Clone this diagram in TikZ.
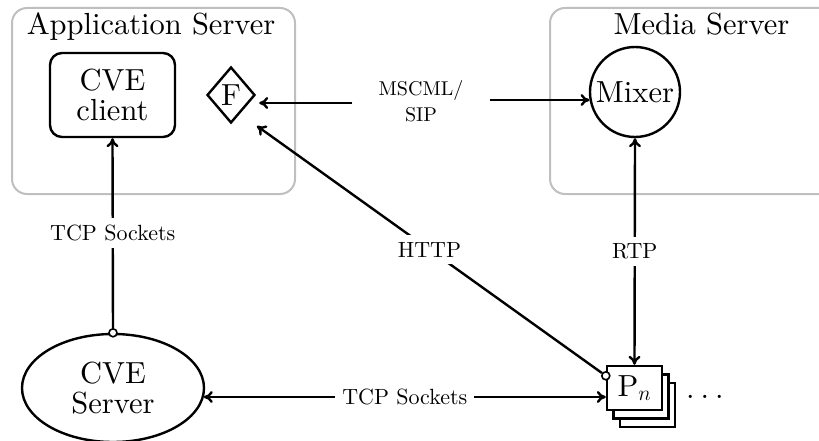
\RequirePackage{fix-cm}
\documentclass[tikz,border=0pt]{standalone}
\usepackage{fontspec}
\setmainfont{lmroman10-regular.otf}
\usetikzlibrary{shapes.geometric,arrows.meta,calc}

\begin{document}
\begin{tikzpicture}[x=1pt,y=-1pt,
  big/.style={font=\fontsize{30.5}{29.5}\selectfont},
  lbl/.style={font=\fontsize{22}{26}\selectfont, fill=white, inner sep=7pt},
  group/.style={draw=gray!50, line width=2pt, rounded corners=15pt},
  conn/.style={line width=2.4pt, -{To[length=9pt,width=12pt]}},
  both/.style={line width=2.4pt, {To[length=9pt,width=12pt]}-{To[length=9pt,width=12pt]}},
  port/.style={circle, draw, fill=white, line width=1.6pt, minimum size=8pt, inner sep=0pt},
  card/.style={draw, fill=white, line width=2.4pt, minimum width=55pt, minimum height=44pt, inner sep=0pt},
  thick line/.style={draw, line width=2.4pt},
]
\useasboundingbox (0,0) rectangle (819,441);
\clip (0,0) rectangle (819,441);

% server groups
\draw[group] (12,8) rectangle (295,194);
\draw[group] (550,8) rectangle (880,194);
\node[big, anchor=base] (apptitle) at (151,35) {Application Server};
\node[big, anchor=base] (medtitle) at (701.5,34.5) {Media Server};

% application server parts
\node[big, thick line, rounded corners=12pt, minimum width=125pt, minimum height=84pt,
      align=center, inner sep=0pt] (client) at (112.5,95) {CVE\\client};
\node[big, thick line, diamond, minimum width=48pt, minimum height=56pt, inner sep=0pt]
      (F) at (231,95) {F};

% media server mixer
\node[big, thick line, circle, minimum size=90pt, inner sep=0pt] (mixer) at (635,92) {Mixer};

% CVE server
\node[big, thick line, ellipse, minimum width=182pt, minimum height=108pt, inner sep=0pt,
      align=center] (cves) at (113,388) {CVE\\Server};

% stacked participants
\node[card] (pn3) at (647.5,405) {};
\node[card] (pn2) at (641,396.5) {};
\node[card, big] (pnf) at (634.5,388) {$\mathrm{P}_n$};
\node[big, anchor=base west, inner sep=0pt] (more) at (686,398) {.\kern6pt.\kern6pt.};

% signalling label between the servers
\node[font=\fontsize{20}{26}\selectfont, align=center, inner xsep=26pt, inner ysep=0pt]
      (msc) at (421,101) {MSCML/\\SIP};
\coordinate (fin) at ($(F)+(26,31)$);
\coordinate (fside) at ($(F.east)+(3,8)$);

% connectors
\draw[conn] (msc.west |- fside) -- (fside);
\draw[conn] (msc.east |- mixer.190) -- (mixer.190);

\node[port] (pa) at (cves.north) {};
\node[port] (pb) at ($(pnf.north west)+(0,11)$) {};

\draw[conn] (pa) -- (client.south) node[lbl, midway] {TCP Sockets};
\coordinate (tcpR) at ($(pnf.west)+(0,9)$);
\draw[both] (tcpR) -- (tcpR -| cves.-6) node[lbl, midway] {TCP Sockets};
\draw[conn] (pb) -- (fin) node[lbl, midway] {HTTP};
\draw[both] (pnf.north) -- (mixer.south) node[lbl, midway] {RTP};
\end{tikzpicture}
\end{document}
